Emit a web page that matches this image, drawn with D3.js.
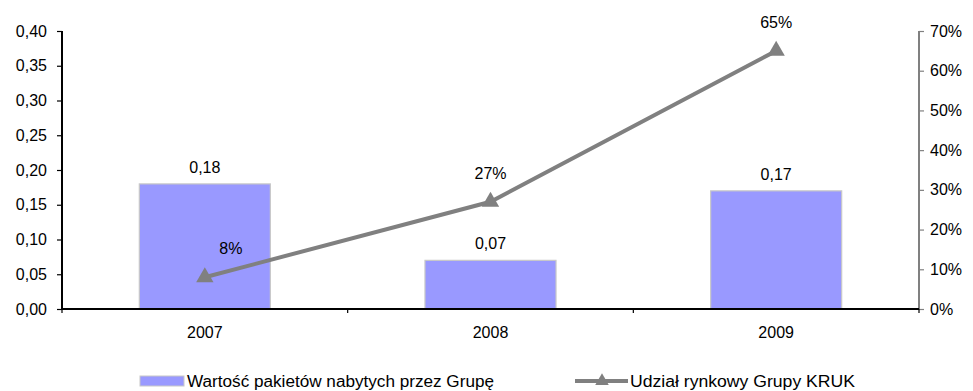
<!DOCTYPE html>
<html>
<head>
<meta charset="utf-8">
<script src="https://cdn.jsdelivr.net/npm/d3@7"></script>
<style>
  html, body { margin: 0; padding: 0; background: #fff; }
  svg { display: block; font-family: "Liberation Sans", Arial, sans-serif; }
</style>
</head>
<body>
<svg id="chart" width="973" height="391"></svg>
<script>
// Years on the category axis
const categories = ["2007", "2008", "2009"];
// Value of debt portfolios purchased by the Group (left axis)
const portfolioValues = [0.18, 0.07, 0.17];
// KRUK Group market share (right axis)
const marketShare = [0.08, 0.27, 0.65];
// Axis ticks
const leftTicks = [0, 0.05, 0.10, 0.15, 0.20, 0.25, 0.30, 0.35, 0.40];
const rightTicks = [0, 0.1, 0.2, 0.3, 0.4, 0.5, 0.6, 0.7];
// Legend entries
const seriesNames = ["Wartość pakietów nabytych przez Grupę", "Udział rynkowy Grupy KRUK"];

const svg = d3.select("#chart");
const plotLeft = 62, plotRight = 919, plotTop = 31, plotBottom = 309;
const barColor = "#9999FF", barEdge = "#C8C8C8", lineColor = "#808080";
const fontSize = 16;

const x = d3.scaleBand().domain(categories).range([plotLeft, plotRight]);
const yL = d3.scaleLinear().domain([0, 0.4]).range([plotBottom, plotTop]);
const yR = d3.scaleLinear().domain([0, 0.7]).range([plotBottom, plotTop]);
const fmtL = d => d.toFixed(2).replace(".", ",");
const fmtR = d => Math.round(d * 100) + "%";
const cx = c => x(c) + x.bandwidth() / 2;

// Bars
const barW = x.bandwidth() / 2.18;
svg.append("g").selectAll("rect")
  .data(categories)
  .join("rect")
  .attr("x", d => cx(d) - barW / 2)
  .attr("y", (d, i) => yL(portfolioValues[i]))
  .attr("width", barW)
  .attr("height", (d, i) => yL(0) - yL(portfolioValues[i]))
  .attr("fill", barColor)
  .attr("stroke", barEdge)
  .attr("stroke-width", 1.2);

// Bar value labels
svg.append("g").selectAll("text")
  .data(categories)
  .join("text")
  .attr("x", d => cx(d))
  .attr("y", (d, i) => yL(portfolioValues[i]) - 11)
  .attr("text-anchor", "middle")
  .attr("font-size", fontSize)
  .text((d, i) => fmtL(portfolioValues[i]));

// Left axis
const gL = svg.append("g").attr("transform", `translate(${plotLeft},0)`)
  .call(d3.axisLeft(yL).tickValues(leftTicks).tickSize(5).tickPadding(10).tickFormat(fmtL));
gL.select(".domain").attr("stroke", "#000").attr("stroke-width", 2).attr("d", `M0,${plotTop}V${plotBottom}`);
gL.selectAll(".tick line").attr("stroke", "#000").attr("stroke-width", 1.2);
gL.selectAll(".tick text").attr("font-size", fontSize).attr("fill", "#000");
gL.attr("font-family", null).attr("font-size", null);

// Right axis
const gR = svg.append("g").attr("transform", `translate(${plotRight},0)`)
  .call(d3.axisRight(yR).tickValues(rightTicks).tickSize(5).tickPadding(6).tickFormat(fmtR));
gR.select(".domain").attr("stroke", lineColor).attr("stroke-width", 2).attr("d", `M0,${plotTop}V${plotBottom}`);
gR.selectAll(".tick line").attr("stroke", lineColor).attr("stroke-width", 1.2);
gR.selectAll(".tick text").attr("font-size", fontSize).attr("fill", "#000");
gR.attr("font-family", null).attr("font-size", null);

// Category axis: baseline, boundary ticks and year labels
const gX = svg.append("g");
gX.append("line").attr("x1", plotLeft).attr("x2", plotRight).attr("y1", plotBottom).attr("y2", plotBottom)
  .attr("stroke", "#000").attr("stroke-width", 2);
const bounds = categories.map(d => x(d)).concat([plotRight]);
gX.selectAll("line.tk").data(bounds).join("line").attr("class", "tk")
  .attr("x1", d => d).attr("x2", d => d).attr("y1", plotBottom).attr("y2", plotBottom + 4)
  .attr("stroke", "#000").attr("stroke-width", 1.2);
gX.selectAll("text").data(categories).join("text")
  .attr("x", d => cx(d))
  .attr("y", 338)
  .attr("text-anchor", "middle")
  .attr("font-size", fontSize)
  .text(d => d);

// Market share line with triangle markers
const line = d3.line()
  .x((d, i) => cx(categories[i]))
  .y(d => yR(d));
svg.append("path").datum(marketShare)
  .attr("d", line)
  .attr("fill", "none")
  .attr("stroke", lineColor)
  .attr("stroke-width", 4);
const tri = d3.symbol(d3.symbolTriangle, 130);
svg.append("g").selectAll("path")
  .data(marketShare)
  .join("path")
  .attr("d", tri)
  .attr("transform", (d, i) => `translate(${cx(categories[i])},${yR(d)})`)
  .attr("fill", lineColor);

// Market share labels (the first one sits to the right of its marker)
svg.append("g").selectAll("text")
  .data(marketShare)
  .join("text")
  .attr("x", (d, i) => cx(categories[i]) + (i === 0 ? 26 : 0))
  .attr("y", d => yR(d) - 23)
  .attr("text-anchor", "middle")
  .attr("font-size", fontSize)
  .text(fmtR);

// Legend
const lg = svg.append("g");
lg.append("rect").attr("x", 140).attr("y", 376).attr("width", 44).attr("height", 10)
  .attr("fill", barColor).attr("stroke", barEdge).attr("stroke-width", 1);
lg.append("text").attr("x", 187).attr("y", 387).attr("font-size", fontSize)
  .attr("textLength", 307).attr("lengthAdjust", "spacingAndGlyphs").text(seriesNames[0]);
lg.append("line").attr("x1", 575).attr("x2", 628).attr("y1", 381).attr("y2", 381)
  .attr("stroke", lineColor).attr("stroke-width", 4);
lg.append("path").attr("d", d3.symbol(d3.symbolTriangle, 80))
  .attr("transform", "translate(602,381)").attr("fill", lineColor);
lg.append("text").attr("x", 630).attr("y", 387).attr("font-size", fontSize)
  .attr("textLength", 225).attr("lengthAdjust", "spacingAndGlyphs").text(seriesNames[1]);
</script>
</body>
</html>
